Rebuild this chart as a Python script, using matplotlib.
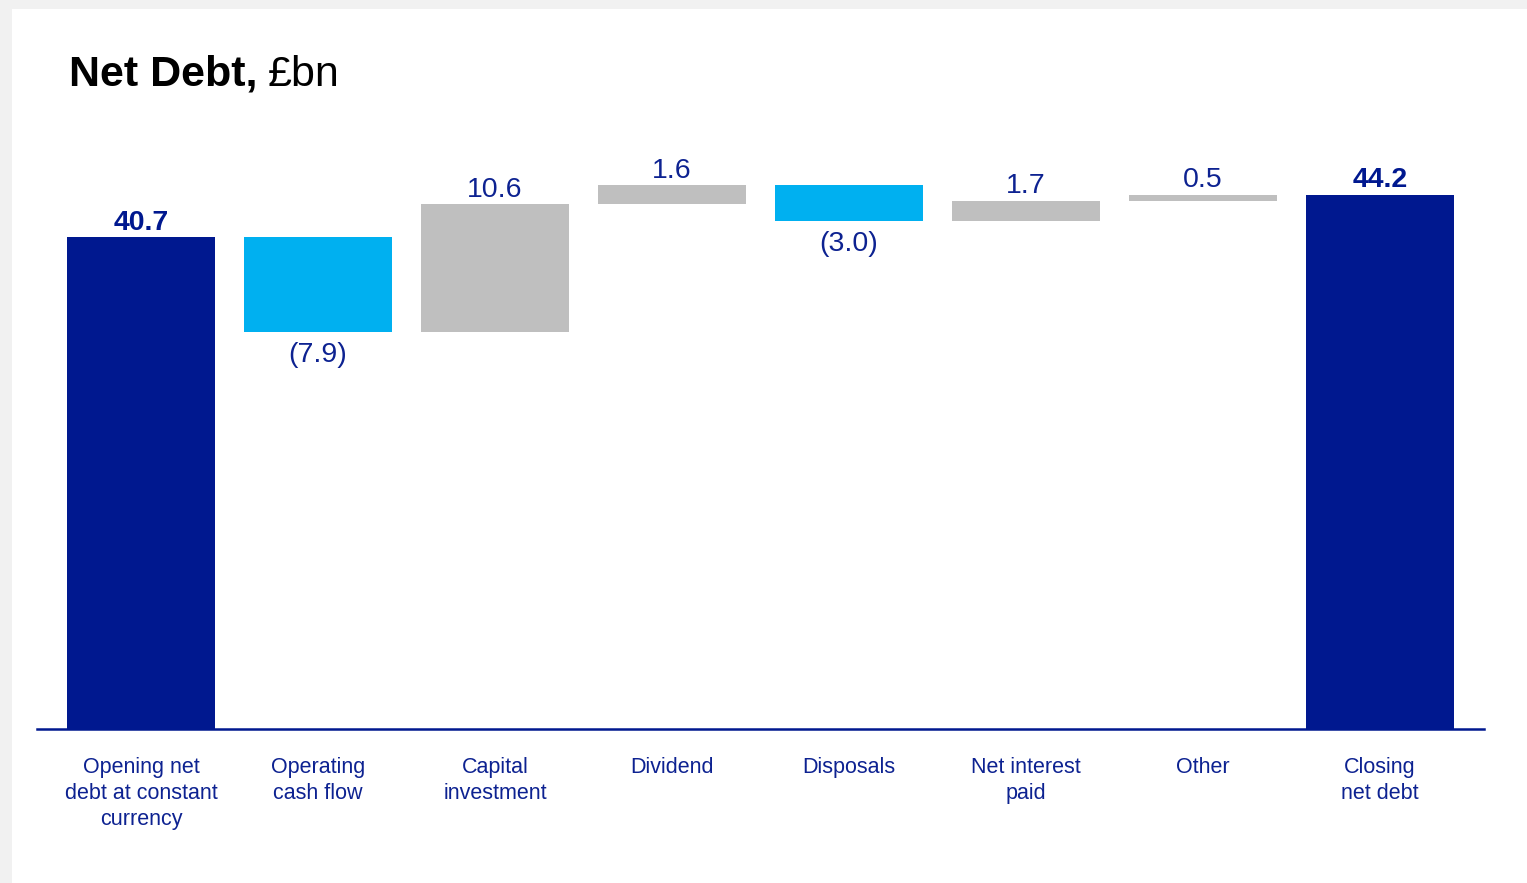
import matplotlib.pyplot as plt
from matplotlib.patches import Rectangle

plt.rcParams['font.family'] = ['Liberation Sans', 'DejaVu Sans']

# data
categories = ['Opening net\ndebt at constant\ncurrency', 'Operating\ncash flow', 'Capital\ninvestment',
              'Dividend', 'Disposals', 'Net interest\npaid', 'Other', 'Closing\nnet debt']
opening = 40.7
changes = [-7.9, 10.6, 1.6, -3.0, 1.7, 0.5]
closing = 44.2

NAVY = '#00188F'
CYAN = '#00B0F0'
GREY = '#BFBFBF'
TXT = '#0D2291'

W, H = 1527, 883
fig = plt.figure(figsize=(W / 100, H / 100), dpi=100)
fig.patch.set_facecolor('#f1f1f1')
fig.patches.append(Rectangle((12 / W, 0), 1 - 12 / W, (H - 9) / H, transform=fig.transFigure,
                             facecolor='white', edgecolor='none', zorder=-5))

# axes placed in pixels: x 37..1484, baseline at y=729
ax_left, ax_right = 37, 1484
base_y, top_y = 729, 124
ax = fig.add_axes([ax_left / W, (H - base_y) / H, (ax_right - ax_left) / W, (base_y - top_y) / H])
ax.set_facecolor('none')

ymax = (base_y - top_y) / 12.09
ax.set_xlim(-0.588, 7.588)
ax.set_ylim(0, ymax)

bw = 0.836
# totals
ax.bar(0, opening, width=bw, color=NAVY, zorder=2)
ax.bar(7, closing, width=bw, color=NAVY, zorder=2)
ax.annotate(f'{opening:.1f}', (0, opening), xytext=(0, 1), textcoords='offset points',
            ha='center', va='bottom', fontsize=20.5, fontweight='bold', color=NAVY)
ax.annotate(f'{closing:.1f}', (7, closing), xytext=(0, 1), textcoords='offset points',
            ha='center', va='bottom', fontsize=20.5, fontweight='bold', color=NAVY)

# floating changes
level = opening
for i, c in enumerate(changes, start=1):
    bottom = level if c > 0 else level + c
    ax.bar(i, abs(c), bottom=bottom, width=bw, color=GREY if c > 0 else CYAN, zorder=2)
    if c > 0:
        ax.annotate(f'{c:.1f}', (i, level + c), xytext=(0, 1), textcoords='offset points',
                    ha='center', va='bottom', fontsize=20.5, color=TXT)
    else:
        ax.annotate(f'({abs(c):.1f})', (i, level + c), xytext=(0, -7), textcoords='offset points',
                    ha='center', va='top', fontsize=20.5, color=TXT)
    level += c

ax.set_xticks(range(len(categories)))
ax.set_xticklabels(categories, fontsize=15.5, color=TXT, linespacing=1.33)
ax.tick_params(axis='x', length=0, pad=20)
ax.set_yticks([])
for s in ['top', 'right', 'left']:
    ax.spines[s].set_visible(False)
ax.spines['bottom'].set_color(NAVY)
ax.spines['bottom'].set_linewidth(1.8)
ax.spines['bottom'].set_zorder(3)

# title: bold part + regular part
t1 = fig.text(69 / W, 1 - 75 / H, 'Net Debt,', fontsize=31, fontweight='bold', color='black',
              ha='left', va='center')
fig.canvas.draw()
bb = t1.get_window_extent()
fig.text((bb.x1 + 10) / W, 1 - 75 / H, '£bn', fontsize=31, color='black', ha='left', va='center')

fig.savefig('out.png', dpi=100, facecolor=fig.get_facecolor())
